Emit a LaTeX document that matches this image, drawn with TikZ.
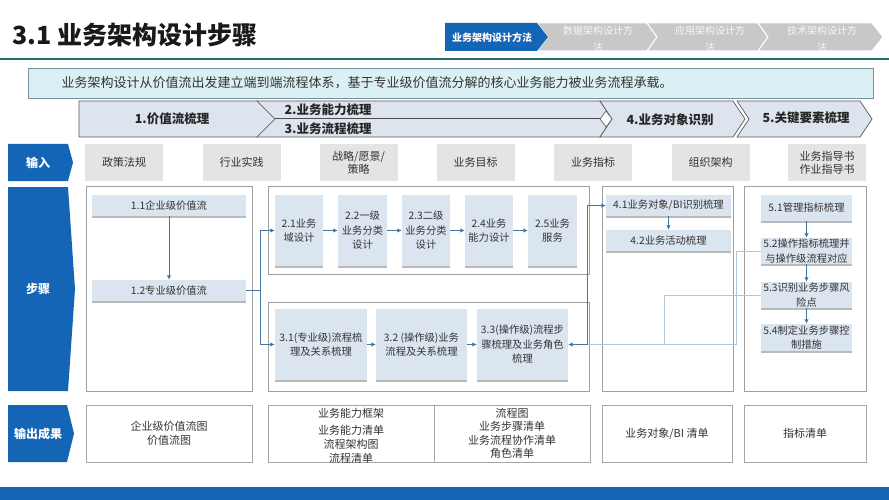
\documentclass[tikz,border=0pt]{standalone}
\usepackage{fontspec}
\setmainfont{Noto Sans CJK SC}
\usetikzlibrary{arrows.meta,shadows}
\definecolor{secblue}{RGB}{21,101,183}
\definecolor{tealline}{RGB}{31,110,106}
\definecolor{bannerfill}{RGB}{218,240,245}
\definecolor{bannerline}{RGB}{120,145,160}
\definecolor{phasefill}{RGB}{221,228,238}
\definecolor{inputgrey}{RGB}{228,228,228}
\definecolor{stepfill}{RGB}{219,229,240}
\definecolor{flowblue}{RGB}{70,118,163}
\definecolor{faintblue}{RGB}{176,201,216}
\definecolor{navgrey}{RGB}{200,200,200}
\definecolor{textdark}{RGB}{51,51,51}
\begin{document}
\begin{tikzpicture}[x=1pt,y=-1pt,
    row_label/.style={text=white,font=\fontsize{12}{14}\selectfont\bfseries},
    nav_text/.style={align=center,text=white!94!gray,font=\fontsize{10}{17}\selectfont},
    phase_shape/.style={fill=phasefill,draw=black!65,line width=0.7pt},
    phase_text/.style={text=black!85,font=\fontsize{12.5}{14}\selectfont\bfseries},
    input_node/.style={fill=inputgrey,minimum width=78,minimum height=37,inner sep=0,align=center,text=textdark,font=\fontsize{11}{13}\selectfont},
    panel_node/.style={draw=gray!75,line width=0.6pt,inner sep=0},
    step_node/.style={fill=stepfill,inner sep=0,align=center,text=textdark,font=\fontsize{10.3}{14.5}\selectfont,drop shadow={shadow xshift=0pt,shadow yshift=-1.5pt,fill=gray!55,opacity=1}},
    out_node/.style={draw=gray!70,line width=0.6pt,inner sep=0,minimum height=57,align=center,text=textdark,font=\fontsize{11}{14}\selectfont},
    flow/.style={draw=flowblue,line width=0.9pt,-{Latex[length=4.5pt,width=4.5pt]}},
    faint/.style={draw=faintblue,line width=0.6pt}]
    \fill[white] (0,0) rectangle (889,500);
    \path[use as bounding box] (0,0) rectangle (889,500);

    \node[anchor=west,text=black!90,font=\fontsize{25}{28}\selectfont\bfseries] (title) at (9,35) {3.1 业务架构设计步骤};

    \begin{scope}
        \clip (440,20) rectangle (889,51);
        \filldraw[fill=navgrey,draw=white,line width=1pt] (537,23) -- (647,23) -- (657,37) -- (647,51) -- (537,51) -- (548,37) -- cycle;
        \filldraw[fill=navgrey,draw=white,line width=1pt] (647,23) -- (758,23) -- (768,37) -- (758,51) -- (647,51) -- (657,37) -- cycle;
        \filldraw[fill=navgrey,draw=white,line width=1pt] (758,23) -- (872,23) -- (883,37) -- (872,51) -- (758,51) -- (768,37) -- cycle;
        \fill[secblue] (445,23) -- (537,23) -- (548,37) -- (537,51) -- (445,51) -- cycle;
        \node[text=white,font=\fontsize{10}{12}\selectfont\bfseries] (nav1) at (492,38) {业务架构设计方法};
        \node[nav_text] (nav2) at (598,39) {数据架构设计方\\法};
        \node[nav_text] (nav3) at (710,39) {应用架构设计方\\法};
        \node[nav_text] (nav4) at (822,39) {技术架构设计方\\法};
    \end{scope}
    \draw[tealline,line width=2.2pt] (0,59) -- (889,59);

    \node[draw=bannerline,fill=bannerfill,line width=0.8pt,minimum width=845,minimum height=30,inner sep=0] (banner) at (450.5,83) {};
    \node[anchor=west,text=textdark,font=\fontsize{13}{15}\selectfont] (banner_text) at (58,83) {业务架构设计从价值流出发建立端到端流程体系，基于专业级价值流分解的核心业务能力被业务流程承载。};

    \filldraw[phase_shape] (79,101) -- (257,101) -- (275,119) -- (257,137) -- (79,137) -- cycle;
    \filldraw[phase_shape] (257,101) -- (600,101) -- (612,119) -- (600,137) -- (257,137) -- (275,119) -- cycle;
    \filldraw[phase_shape] (600,101) -- (733,101) -- (745,119) -- (733,137) -- (600,137) -- (612,119) -- cycle;
    \filldraw[phase_shape] (737,101) -- (860,101) -- (872,119) -- (860,137) -- (737,137) -- (749,119) -- cycle;
    \draw[black!70,line width=1pt] (275,119) -- (600,119);
    \filldraw[fill=white,draw=black!60,line width=0.7pt] (600,119) -- (606,111) -- (612,119) -- (606,127) -- cycle;
    \node[phase_text] (ph1) at (172,119) {1.价值流梳理};
    \node[phase_text,anchor=west] (ph2) at (281,110) {2.业务能力梳理};
    \node[phase_text,anchor=west] (ph3) at (281,129) {3.业务流程梳理};
    \node[phase_text] (ph4) at (670,120) {4.业务对象识别};
    \node[phase_text] (ph5) at (806,118) {5.关键要素梳理};

    \fill[secblue] (8,144) -- (68,144) -- (73,162.5) -- (68,181) -- (8,181) -- cycle;
    \fill[secblue] (8,187) -- (68,187) -- (75,289) -- (68,391) -- (8,391) -- cycle;
    \fill[secblue] (8,405) -- (67,405) -- (74,433.5) -- (67,462) -- (8,462) -- cycle;
    \node[row_label] (lab_in) at (38,162.5) {输入};
    \node[row_label] (lab_step) at (38,289) {步骤};
    \node[row_label] (lab_out) at (38,433.5) {输出成果};

    \node[input_node] (in1) at (124,162.5) {政策法规};
    \node[input_node] (in2) at (241.5,162.5) {行业实践};
    \node[input_node] (in3) at (358.5,162.5) {战略/愿景/\\策略};
    \node[input_node] (in4) at (475.5,162.5) {业务目标};
    \node[input_node] (in5) at (593,162.5) {业务指标};
    \node[input_node] (in6) at (710.5,162.5) {组织架构};
    \node[input_node] (in7) at (827,162.5) {业务指导书\\作业指导书};

    \node[panel_node,minimum width=166,minimum height=205] (p1) at (169,288.5) {};
    \node[panel_node,minimum width=321,minimum height=88] (p2) at (428.5,230) {};
    \node[panel_node,minimum width=321,minimum height=89] (p3) at (428.5,346.5) {};
    \node[panel_node,minimum width=131,minimum height=205] (p4) at (667.5,288.5) {};
    \node[panel_node,minimum width=122,minimum height=205] (p5) at (805,288.5) {};

    \node[step_node,minimum width=154,minimum height=21] (s11) at (169,205.5) {1.1企业级价值流};
    \node[step_node,minimum width=154,minimum height=21] (s12) at (169,290.5) {1.2专业级价值流};
    \node[step_node,minimum width=48,minimum height=71] (s21) at (299,230.5) {2.1业务\\域设计};
    \node[step_node,minimum width=49,minimum height=71] (s22) at (362.5,230.5) {2.2一级\\业务分类\\设计};
    \node[step_node,minimum width=48,minimum height=71] (s23) at (426,230.5) {2.3二级\\业务分类\\设计};
    \node[step_node,minimum width=48,minimum height=71] (s24) at (489,230.5) {2.4业务\\能力设计};
    \node[step_node,minimum width=49,minimum height=71] (s25) at (552.5,230.5) {2.5业务\\服务};
    \node[step_node,minimum width=92,minimum height=71] (s31) at (321,344.5) {3.1(专业级)流程梳\\理及关系梳理};
    \node[step_node,minimum width=91,minimum height=71] (s32) at (421.5,344.5) {3.2 (操作级)业务\\流程及关系梳理};
    \node[step_node,minimum width=91,minimum height=71] (s33) at (522.5,344.5) {3.3(操作级)流程步\\骤梳理及业务角色\\梳理};
    \node[step_node,minimum width=125,minimum height=21] (s41) at (668.5,205.5) {4.1业务对象/BI识别梳理};
    \node[step_node,minimum width=125,minimum height=21] (s42) at (668.5,240.5) {4.2业务活动梳理};
    \node[step_node,minimum width=91,minimum height=26] (s51) at (806.5,208) {5.1管理指标梳理};
    \node[step_node,minimum width=91,minimum height=26] (s52) at (806.5,251) {5.2操作指标梳理并\\与操作级流程对应};
    \node[step_node,minimum width=91,minimum height=26] (s53) at (806.5,295) {5.3识别业务步骤风\\险点};
    \node[step_node,minimum width=91,minimum height=27] (s54) at (806.5,337.5) {5.4制定业务步骤控\\制措施};

    \coordinate (j1) at (260,290.5);
    \coordinate (j3) at (587,344.5);
    \coordinate (k2) at (736,344.5);
    \coordinate (k3) at (664,344.5);
    \draw[faint] (s52.west) -| (k2) -- (j3);
    \draw[faint] (s53.west) -| (k3);
    \draw[flow] (s11) -- (s12);
    \draw[flow] (s12.east) -- (j1) |- (s21.west);
    \draw[flow] (j1) |- (s31.west);
    \draw[flow] (s21) -- (s22);
    \draw[flow] (s22) -- (s23);
    \draw[flow] (s23) -- (s24);
    \draw[flow] (s24) -- (s25);
    \draw[flow] (s31) -- (s32);
    \draw[flow] (s32) -- (s33);
    \draw[flow] (j3) -- (s33.east);
    \draw[flow] (j3) |- (s41.west);
    \draw[flow] (s41) -- (s42);
    \draw[flow] (s51) -- (s52);
    \draw[flow] (s52) -- (s53);
    \draw[flow] (s53) -- (s54);

    \node[out_node,minimum width=166] (o1) at (169,433.5) {企业级价值流图\\价值流图};
    \node[out_node,minimum width=166] (o2) at (351,433.5) {};
    \node[out_node,minimum width=156] (o3) at (512,433.5) {};
    \node[out_node,minimum width=130] (o4) at (667,433.5) {业务对象/BI 清单};
    \node[out_node,minimum width=122] (o5) at (805,433.5) {指标清单};
    \node[align=center,text=textdark,font=\fontsize{11}{14}\selectfont] (o2_text) at (351,436) {业务能力框架\\[3pt]业务能力清单\\流程架构图\\流程清单};
    \node[align=center,text=textdark,font=\fontsize{11}{13.5}\selectfont] (o3_text) at (512,433.5) {流程图\\业务步骤清单\\业务流程协作清单\\角色清单};

    \fill[secblue] (0,487) rectangle (889,500);
\end{tikzpicture}
\end{document}
